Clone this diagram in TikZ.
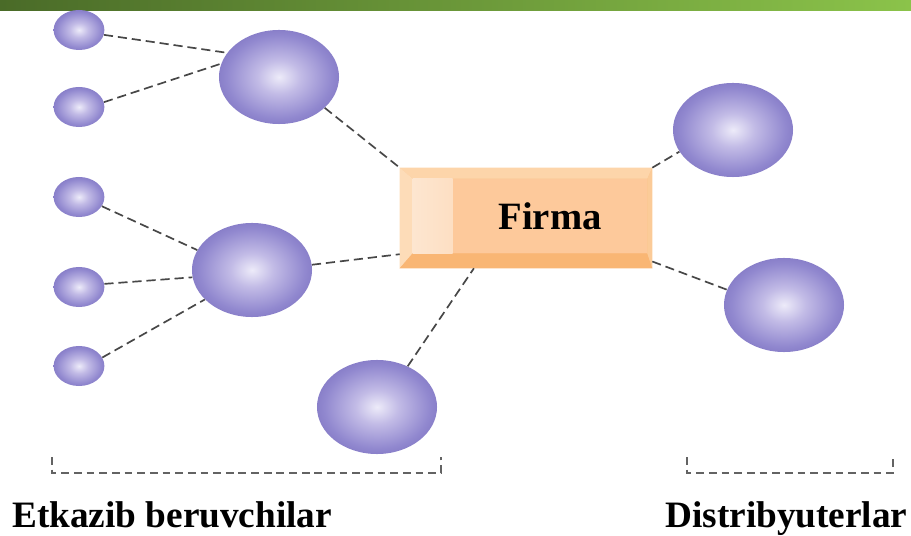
\documentclass[tikz,border=0pt]{standalone}
\usepackage{fontspec}
\setmainfont{Liberation Serif}
\usetikzlibrary{calc,positioning,shapes.geometric}
\definecolor{fmorbin}{HTML}{EDEBF9}
\definecolor{fmorblite}{HTML}{C2BBE6}
\definecolor{fmorbmid}{HTML}{9188CF}
\definecolor{fmorbout}{HTML}{6C60B4}
\definecolor{fmlink}{HTML}{474747}
\definecolor{fmbar}{HTML}{4A6B28}
\definecolor{fmbarlight}{HTML}{8BC34A}
\definecolor{fmbox}{HTML}{FCC48E}
\definecolor{fmboxtop}{HTML}{FDD5AA}
\definecolor{fmboxleft}{HTML}{FDDCB8}
\definecolor{fmboxbot}{HTML}{F9B674}
\definecolor{fmboxright}{HTML}{FBCB98}
\definecolor{fmface}{HTML}{FDC99B}
\definecolor{fmfacelight}{HTML}{FDE6D0}
\pgfdeclareradialshading{fmorb}{\pgfpoint{0bp}{0bp}}{color(0bp)=(fmorbin); color(9bp)=(fmorblite); color(22bp)=(fmorbmid); color(36bp)=(fmorbout); color(50bp)=(fmorbout)}
\tikzset{
  forb/.style={ellipse,shade,shading=fmorb,minimum width=1.27cm,minimum height=1cm,inner sep=0pt},
  fbig/.style={forb,minimum width=3cm,minimum height=2.35cm},
  fbox/.style={rectangle,fill=fmbox,minimum width=6.3cm,minimum height=2.5cm,inner sep=0pt},
  flink/.style={draw=fmlink,line width=1.2pt,dash pattern=on 6.5pt off 3.5pt},
  fbrace/.style={draw=fmlink!85,line width=0.9pt,dash pattern=on 5.5pt off 3.5pt},
  fcap/.style={font=\fontsize{26.5}{30}\selectfont\bfseries,inner sep=0pt}
}
\begin{document}
\begin{tikzpicture}[x=0.025cm,y=-0.025cm]
  \useasboundingbox (0,0) rectangle (911,536);
  \shade[left color=fmbar,right color=fmbarlight] (0,0) rectangle (911,11);
  % suppliers
  \foreach \n/\y in {s1/30,s2/107,s3/197,s4/287,s5/366}
    \node[forb] (\n) at (79,\y) {};
  \node[fbig] (l1) at (279,77) {};
  \node[fbig] (l2) at (252,270) {};
  \node[fbig] (l3) at (377,407) {};
  % distributors
  \node[fbig] (r1) at (733,130) {};
  \node[fbig] (r2) at (784,305) {};
  % firm
  \node[fbox] (firma) at (526,218) {};
  \coordinate (fin-nw) at ($(firma.north west)+(13,11)$);
  \coordinate (fin-ne) at ($(firma.north east)+(-5,11)$);
  \coordinate (fin-se) at ($(firma.south east)+(-5,-15)$);
  \coordinate (fin-sw) at ($(firma.south west)+(13,-15)$);
  \fill[fmboxtop] (firma.north west)--(firma.north east)--(fin-ne)--(fin-nw)--cycle;
  \fill[fmboxleft] (firma.north west)--(fin-nw)--(fin-sw)--(firma.south west)--cycle;
  \fill[fmboxbot] (firma.south west)--(fin-sw)--(fin-se)--(firma.south east)--cycle;
  \fill[fmboxright] (firma.north east)--(fin-ne)--(fin-se)--(firma.south east)--cycle;
  \fill[fmface] (fin-nw) rectangle (fin-se);
  \shade[left color=fmfacelight,right color=fmfacelight!75!fmface] (fin-nw) rectangle ($(fin-sw)+(40,0)$);
  \node[fcap,font=\fontsize{27.5}{30}\selectfont\bfseries] (firmatxt) at ($(firma.center)+(24,-2)$) {Firma};
  % links
  \draw[flink] (s1.-11)--(l1.155);
  \draw[flink] (s2.11)--(l1.167);
  \draw[flink] (l1.-34)--(firma.north west);
  \draw[flink] (s3.-22)--(l2.160);
  \draw[flink] (s4.7)--(l2.187);
  \draw[flink] (s5.20)--(l2.212);
  \draw[flink] (l2.5)--(firma.196);
  \draw[flink] (l3.53)--(firma.224);
  \draw[flink] (firma.north east)--(r1.202);
  \draw[flink] (firma.-19)--(r2.165);
  % brackets
  \coordinate (lb-a) at (52,457);
  \coordinate (lb-b) at (52,473);
  \coordinate (lb-c) at (441,473);
  \coordinate (lb-d) at (441,457);
  \coordinate (rb-a) at (687,457);
  \coordinate (rb-b) at (687,473);
  \coordinate (rb-c) at (893,473);
  \coordinate (rb-d) at (893,457);
  \draw[fbrace] (lb-a)--(lb-b)--(lb-c)--(lb-d);
  \draw[fbrace] (rb-a)--(rb-b)--(rb-c)--(rb-d);
  \node[fcap,anchor=base west] (etk) at (12,527) {Etkazib beruvchilar};
  \node[fcap,anchor=base west] (dist) at (665,527) {Distribyuterlar};
\end{tikzpicture}
\end{document}
